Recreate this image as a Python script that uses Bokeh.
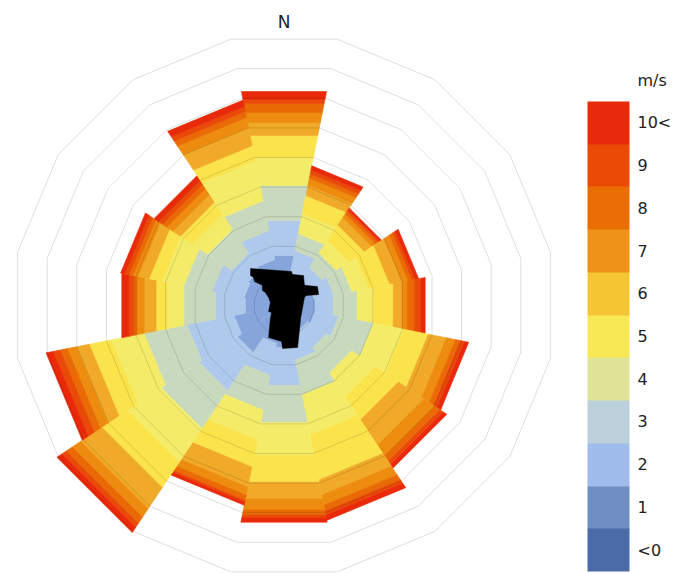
import math
from bokeh.plotting import figure
from bokeh.models import ColorBar, LinearColorMapper, FixedTicker, Label
from bokeh.embed import file_html
from bokeh.resources import INLINE

# ---------------- data ----------------
directions = ["N", "NNE", "NE", "ENE", "E", "ESE", "SE", "SSE",
              "S", "SSW", "SW", "WSW", "W", "WNW", "NW", "NNW"]

# frequency per speed bin (stacked outward), one value per direction, in ring units
bin_1 = [1.69, 1.08, 1.01, 1.01, 1.05, 1.05, 0.95, 1.01, 1.42, 1.28, 1.86, 1.69, 1.30, 1.35, 1.42, 1.55]
bin_2 = [1.18, 0.78, 0.51, 0.68, 0.61, 0.80, 0.74, 0.84, 1.28, 1.08, 1.52, 1.59, 1.00, 1.08, 0.68, 0.98]
bin_3 = [1.18, 0.57, 0.57, 0.61, 0.81, 1.18, 1.01, 1.18, 1.25, 1.18, 1.52, 1.45, 1.08, 0.95, 0.95, 1.01]
bin_4 = [0.95, 0.68, 0.51, 0.57, 0.56, 1.01, 0.95, 1.35, 1.11, 1.01, 1.35, 1.11, 0.57, 0.74, 0.61, 1.35]
bin_5 = [0.74, 0.61, 0.61, 0.71, 0.66, 0.84, 0.91, 1.52, 0.91, 0.91, 1.01, 0.74, 0.37, 0.44, 0.47, 0.51]
bin_6 = [0.44, 0.34, 0.30, 0.41, 0.30, 0.61, 1.01, 0.51, 0.57, 0.68, 0.84, 0.44, 0.41, 0.37, 0.30, 0.61]
bin_7 = [0.34, 0.24, 0.14, 0.20, 0.17, 0.30, 0.44, 0.34, 0.37, 0.27, 0.34, 0.30, 0.24, 0.17, 0.24, 0.34]
bin_8 = [0.30, 0.14, 0.10, 0.14, 0.24, 0.17, 0.20, 0.20, 0.17, 0.17, 0.24, 0.24, 0.10, 0.14, 0.17, 0.20]
bin_9 = [0.14, 0.14, 0.07, 0.10, 0.22, 0.14, 0.14, 0.14, 0.10, 0.07, 0.17, 0.24, 0.17, 0.14, 0.17, 0.17]
bin_10 = [0.27, 0.14, 0.07, 0.12, 0.15, 0.14, 0.14, 0.17, 0.14, 0.10, 0.20, 0.24, 0.24, 0.14, 0.17, 0.22]
bins = [bin_1, bin_2, bin_3, bin_4, bin_5, bin_6, bin_7, bin_8, bin_9, bin_10]

bin_colors = ["#86a5db", "#aec9eb", "#c9d9bd", "#f4ec68", "#fbe34b",
              "#f0a928", "#ed8c0e", "#ea6b05", "#ea4a07", "#e92a0a"]

legend_labels = ["<0", "1", "2", "3", "4", "5", "6", "7", "8", "9", "10<"]
legend_colors = ["#4a6aa8", "#6f8fc3", "#9fbcec", "#bbd0da", "#dfe498", "#f8e855",
                 "#f5c534", "#ee9218", "#ea6e04", "#eb4a06", "#e8290b"]
legend_title = "m/s"

ring_values = [1, 2, 3, 4, 5, 6, 7, 8, 9]

# black footprint in the centre (ring units)
footprint_x = [-1.13, 0.25, 0.29, 0.66, 0.69, 1.13, 1.17, 0.76, 0.69, 0.56, 0.46, -0.05, -0.08,
               -0.52, -0.46, -0.42, -0.52, -0.46, -0.52, -0.63, -0.73, -0.73, -1.00, -1.03, -1.13]
footprint_y = [1.25, 1.15, 1.05, 1.01, 0.68, 0.64, 0.37, 0.34, 0.27, -0.44, -1.42, -1.45, -1.22,
               -1.08, -0.44, -0.24, -0.20, 0.10, 0.27, 0.44, 0.51, 0.68, 0.81, 0.95, 1.01]

# ---------------- figure ----------------
W, H = 685, 573
PX = 29.6                 # pixels per ring unit
CX, CY = 283.5, 305.0     # rose centre inside the figure (px from left / top)

p = figure(width=W, height=H,
           x_range=(-CX / PX, (W - CX) / PX),
           y_range=(-(H - CY) / PX, CY / PX),
           output_backend="svg", toolbar_location=None, min_border=0)
p.axis.visible = False
p.grid.visible = False
p.outline_line_color = None
p.background_fill_color = "white"
p.border_fill_color = "white"

n = len(directions)
half = math.pi / n
k = 1.0 / math.cos(half)

xs, ys, cols = [], [], []
for i in range(n):
    th = 2 * math.pi * i / n
    a0, a1 = th - half, th + half
    r0 = 0.0
    for b, vals in enumerate(bins):
        r1 = r0 + vals[i]
        px_ = [r0 * k * math.sin(a0), r1 * k * math.sin(a0), r1 * k * math.sin(a1), r0 * k * math.sin(a1)]
        py_ = [r0 * k * math.cos(a0), r1 * k * math.cos(a0), r1 * k * math.cos(a1), r0 * k * math.cos(a1)]
        xs.append(px_)
        ys.append(py_)
        cols.append(bin_colors[b])
        r0 = r1

p.patches(xs, ys, fill_color=cols, line_color=cols, line_width=0.6)

# polygon rings
rx, ry = [], []
for r in ring_values:
    angs = [half + 2 * half * j for j in range(n + 1)]
    rx.append([r * k * math.sin(a) for a in angs])
    ry.append([r * k * math.cos(a) for a in angs])
p.multi_line(rx, ry, line_color="black", line_alpha=0.13, line_width=1)

p.patch(footprint_x, footprint_y, fill_color="black", line_color="black", line_width=0.5)

# direction label
p.add_layout(Label(x=0, y=9.59, text="N", text_align="center", text_baseline="middle",
                   text_font="DejaVu Sans", text_font_size="17px", text_color="#222222"))

# legend colour bar
mapper = LinearColorMapper(palette=legend_colors, low=0, high=len(legend_colors))
cb = ColorBar(color_mapper=mapper,
              ticker=FixedTicker(ticks=[i + 0.5 for i in range(len(legend_labels))]),
              major_label_overrides={i + 0.5: lab for i, lab in enumerate(legend_labels)},
              width=42, height=470, location=(587, 2), padding=0,
              label_standoff=8,
              major_tick_line_color=None, minor_tick_line_color=None,
              bar_line_color=None, border_line_color=None,
              background_fill_alpha=0,
              major_label_text_font="DejaVu Sans", major_label_text_font_size="16px",
              major_label_text_color="#222222")
p.add_layout(cb)

p.add_layout(Label(x=637, y=493, x_units="screen", y_units="screen", text=legend_title,
                   text_align="left", text_baseline="middle",
                   text_font="DejaVu Sans", text_font_size="16px", text_color="#222222"))

open("out.html", "w").write(file_html(p, INLINE))
